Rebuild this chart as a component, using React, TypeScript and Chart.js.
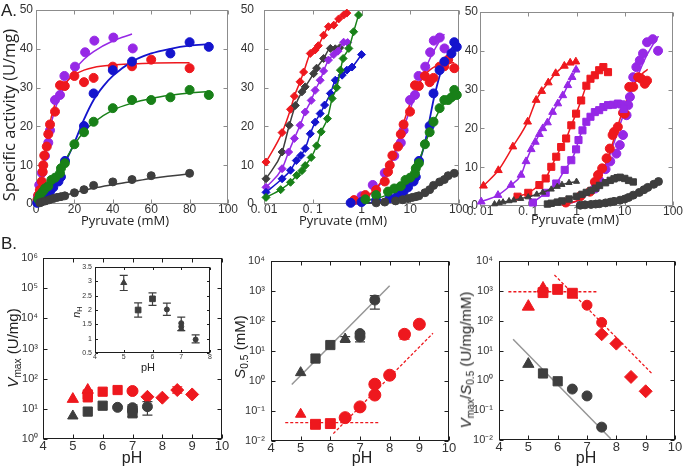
import React, { useEffect, useRef } from 'react';
import { Chart, registerables } from 'chart.js';
Chart.register(...registerables);

type P = [number, number];
type E = [number, number, number];

// ---------- Panel A, linear (pyruvate mM vs specific activity U/mg) ----------
const RED_A1: P[] = [[0.7,1],[1.2,2.3],[2,3.6],[3,5.8],[3.5,8.3],[3.8,10],[4.3,12.5],[5.6,14.8],[6.4,18],[7.3,20.5],[9.9,23.8],[12.5,30.6],[15,30.4],[20,33],[25,31.4],[30,32.5],[40,35.4],[50,35.5],[60,37.2],[80,35]];
const PURPLE_A1: P[] = [[1,2],[1.7,4.9],[3,8],[4.7,12.4],[6.4,15.8],[7.3,19],[9.9,26.8],[12.5,28.1],[14.8,33],[20.3,35.4],[25.6,39.1],[30.4,42.1],[40.3,42.9],[50.4,40.1]];
const BLUE_A1: P[] = [[0.6,0.3],[1,0.5],[2,0.9],[3.8,1.5],[5.6,2.3],[7.3,3.2],[9,4.3],[11.7,5.8],[13,7],[15.1,11.1],[25,20.1],[30,28.5],[40,34.5],[50,36.7],[70,38.8],[80,41.7],[90,40.5]];
const GREEN_A1: P[] = [[1.2,1.2],[2,2.3],[3.5,3.2],[4.7,4],[6.4,4.6],[8,6.2],[10,6.8],[12.5,7.9],[13,9.2],[15,10.5],[20,15.4],[25,18.5],[30,21.2],[40,24.7],[50,26.8],[60,26.8],[70,27.5],[80,29.4],[90,28.1]];
const GRAY_A1: P[] = [[2,0.3],[3,0.5],[5,0.8],[7,1.1],[9,1.4],[11,1.7],[13,1.9],[15,2.1],[20,2.9],[25,3.7],[30,4.8],[40,5.7],[50,6.3],[60,7.3],[80,7.9]];

const RED_FIT: P[] = [[0,0],[0.5,0.5],[1,1.3],[2,4],[3,7.3],[4,10.8],[5,14.2],[6,17.4],[8,22.5],[10,26],[12,28.5],[15,31],[20,33.3],[25,34.5],[30,35.2],[40,35.8],[50,36.1],[60,36.3],[80,36.4]];
const PURPLE_FIT: P[] = [[0,0],[0.5,0.4],[1,1.2],[2,3.8],[3,7],[4,10.3],[5,13.4],[6,16.3],[8,21],[10,24.5],[12,27.3],[15,30.5],[20,34.5],[25,37.3],[30,39.3],[40,42],[50,43.8]];
const BLUE_FIT: P[] = [[0,0],[0.5,0.05],[1,0.15],[2,0.5],[3,1],[4,1.5],[5,2.1],[6,2.8],[8,4.3],[10,6],[12,8],[15,10.5],[20,15.8],[25,21.8],[30,26.8],[35,30.3],[40,33],[50,36.7],[60,38.8],[70,40],[80,40.8],[90,41.2]];
const GREEN_FIT: P[] = [[0,0],[0.5,0.3],[1,0.7],[2,1.4],[3,2.1],[4,2.7],[5,3.3],[6,4],[8,5.3],[10,6.8],[12,8.5],[15,11],[20,15.3],[25,18.6],[30,21],[40,24.2],[50,26],[60,27.2],[70,28],[80,28.6],[90,29]];
const GRAY_FIT: P[] = [[0,0],[1,0.15],[2,0.3],[3,0.45],[5,0.8],[8,1.3],[10,1.55],[15,2.2],[20,2.9],[30,4.1],[40,5],[50,5.8],[60,6.6],[70,7.2],[80,7.8]];

// ---------- Panel A, middle (log) diamonds ----------
const RED_D: P[] = [[0.011,10.8],[0.0235,18.4],[0.035,24.4],[0.042,27.8],[0.055,31.5],[0.065,34],[0.089,38.8],[0.112,39.7],[0.13,40.8],[0.167,43.5],[0.21,45.7],[0.27,46.1],[0.34,47.7],[0.43,48.7],[0.5,49.2]];
const GRAY_D: P[] = [[0.011,6.5],[0.0235,13.4],[0.033,20.3],[0.044,25.4],[0.06,28.9],[0.07,30.2],[0.104,33.6],[0.12,35],[0.167,37.5],[0.23,40.1],[0.29,40],[0.36,40.3]];
const PURPLE_D: P[] = [[0.011,4.3],[0.0235,9.1],[0.032,13.4],[0.042,16.9],[0.055,20.3],[0.07,23.7],[0.093,26.7],[0.112,29.3],[0.142,31.9],[0.167,34.3],[0.21,37.1],[0.27,38.5],[0.33,39.4],[0.43,41.7],[0.52,41.6]];
const BLUE_D: P[] = [[0.011,3],[0.0235,6.5],[0.035,8.7],[0.046,11.2],[0.057,12.5],[0.07,14.3],[0.089,18.1],[0.112,21.1],[0.142,23.3],[0.175,25.5],[0.23,28.5],[0.29,31.9],[0.4,33.2],[0.5,34.5],[0.64,35.3],[1.0,38.5]];
const GREEN_D: P[] = [[0.011,1.7],[0.022,3.7],[0.035,5.6],[0.047,7.4],[0.06,8.6],[0.07,9.9],[0.093,12],[0.12,15],[0.149,18.6],[0.2,22],[0.25,27.2],[0.31,30],[0.37,34.5],[0.42,37.5],[0.55,40.1],[0.69,44.4],[0.87,48.7]];

// ---------- Panel A, right (log) ----------
const RED_TRI: P[] = [[0.0118,5.2],[0.024,9.2],[0.048,15.3],[0.097,21.7],[0.146,27.3],[0.19,29.6],[0.26,31.8],[0.37,34.2],[0.56,36.1],[0.74,36.9],[0.97,37.2]];
const PURPLE_TRI: P[] = [[0.0106,1.1],[0.0236,2.8],[0.044,5.4],[0.071,8],[0.09,11.5],[0.115,14.6],[0.14,16.5],[0.17,18.5],[0.2,20],[0.25,21.5],[0.32,24.2],[0.41,26.4],[0.52,28.5],[0.66,31.1],[0.81,33.2],[0.98,35.1]];
const GRAY_TRI: P[] = [[0.02,0.5],[0.025,0.8],[0.03,1],[0.04,1.3],[0.05,1.5],[0.07,1.9],[0.1,2.3],[0.15,3],[0.2,3.5],[0.3,4.3],[0.4,5],[0.5,5.5],[0.7,6],[1,6.3]];
const RED_SQ: P[] = [[0.06,2.4],[0.1,3.4],[0.17,5.4],[0.23,7.1],[0.3,10.1],[0.38,12.7],[0.48,15.2],[0.61,17.4],[0.78,20.8],[0.98,23.8],[1.25,27.2],[1.6,31],[1.95,32.8],[2.4,33.7],[2.95,35],[3.6,35.8],[4.5,34.5]];
const PURPLE_SQ: P[] = [[0.125,0.9],[0.23,3.4],[0.38,5.8],[0.57,9.3],[0.78,11.8],[0.98,14.6],[1.1,17],[1.33,19.5],[1.6,21.7],[1.95,23],[2.4,24.2],[2.95,24.7],[3.6,25.5],[4.5,26],[5.7,26.1],[7.2,26.4],[8.5,26.2],[9.5,25]];
const GRAY_SQ: P[] = [[0.25,0.5],[0.3,0.7],[0.4,1],[0.5,1.3],[0.7,1.8],[1,2.5],[1.3,3],[1.6,3.5],[2,4],[2.5,4.6],[3,5.3],[4,6],[5,6.6],[6,7],[7,7.3],[8,7.4],[10,7.1],[12,6.6],[15,6.2]];
const RED_C3: P[] = [[0.6,0.9],[1.2,2.5],[1.9,3.7],[2.4,6.2],[2.8,8],[3.4,9.7],[4.2,12.3],[4.9,14.8],[5.6,18.3],[6,19.1],[7.2,20.4],[9.2,24],[10,23.8],[12.4,30.7],[15,30.7],[19,33.2],[22,32.8],[26,31.5],[29,32.3]];
const PURPLE_C3: P[] = [[2.4,4.5],[3,6.5],[4,9.5],[5,11.5],[6.7,13.5],[7.9,15.7],[9.2,18.3],[10.9,23.4],[11.8,26],[12.8,28.1],[15,33.2],[17.4,35.8],[20.5,37.5],[23.9,39.3],[29,42.2],[38,43],[49,40]];
const GRAY_C3: P[] = [[1.2,0.2],[1.5,0.3],[2,0.4],[2.5,0.5],[3,0.6],[4,0.8],[5,1],[6,1.2],[8,1.5],[10,1.8],[12,2.2],[15,2.8],[20,3.5],[25,4.2],[30,4.8],[40,5.6],[50,6.3]];

// ---------- Panel B, left: Vmax vs pH ----------
const B1_RED_TRI: P[] = [[5,21],[5.5,42]];
const B1_RED_SQ: P[] = [[5.5,30],[5.5,24],[6,37],[6.5,42]];
const B1_RED_CIR: P[] = [[7,39]];
const B1_RED_DIA: P[] = [[7.5,25],[8,23.4],[8.5,42],[9,30]];
const B1_GRAY_TRI: P[] = [[5,5.8]];
const B1_GRAY_SQ: P[] = [[5.5,8.1],[6,12.7],[7,7.1]];
const B1_GRAY_CIR: P[] = [[6.5,11.2],[7,10.9],[7,8.5],[7.5,11.8]];
const B1_ERR_GRAY: E[] = [[7,5.5,13.5],[7.5,6.2,17.3]];
const B1_ERR_RED: E[] = [[8.5,33,54],[7,35,44]];

// inset: nH vs pH
const IN_TRI: P[] = [[5,2.95],[7,1.34]];
const IN_SQ: P[] = [[5.5,2.0],[6,2.39]];
const IN_CIR: P[] = [[6.5,2.02],[7,1.54],[7,1.42],[7.5,0.97]];
const IN_ERR: E[] = [[5,2.68,3.21],[5.5,1.75,2.25],[6,2.16,2.6],[6.5,1.81,2.24],[7,1.28,1.75],[7.5,0.85,1.13]];

// ---------- Panel B, middle: S0.5 vs pH ----------
const B2_GRAY_TRI: P[] = [[5,1.9],[6.5,25]];
const B2_GRAY_SQ: P[] = [[5.5,5.6],[6,15.8]];
const B2_GRAY_CIR: P[] = [[7,29.5],[7,38],[7.5,500]];
const B2_ERR_GRAY: E[] = [[6.5,19.5,30],[7,20,44],[7.5,250,700]];
const B2_RED_TRI: P[] = [[5,0.078]];
const B2_RED_SQ: P[] = [[5.5,0.036],[6,0.038]];
const B2_RED_CIR: P[] = [[6.5,0.06],[7,0.137],[7.5,0.34],[7.5,0.78],[8,1.56],[8.5,36],[9,78]];
const B2_ERR_RED: E[] = [[8.5,25,46]];
const B2_GRAY_LINE: P[] = [[4.7,0.76],[8.0,1500]];
const B2_RED_FLAT: P[] = [[4.48,0.041],[7.64,0.041]];
const B2_RED_SLOPE: P[] = [[6.1,0.0176],[9.46,39]];

// ---------- Panel B, right: Vmax/S0.5 vs pH ----------
const B3_RED_TRI: P[] = [[5,295],[5.5,1200]];
const B3_RED_SQ: P[] = [[5.5,870],[6,1120],[6.5,830]];
const B3_RED_CIR: P[] = [[7,330],[7.5,87]];
const B3_RED_DIA: P[] = [[7.5,35],[8,17],[8.5,1.3],[9,0.43]];
const B3_GRAY_TRI: P[] = [[5,3.5]];
const B3_GRAY_SQ: P[] = [[5.5,1.7],[6,0.93]];
const B3_GRAY_CIR: P[] = [[6.5,0.51],[7,0.3],[7.5,0.027]];
const B3_RED_FLAT: P[] = [[4.32,930],[7.38,930]];
const B3_RED_SLOPE: P[] = [[5.89,3400],[9.21,1.7]];
const B3_GRAY_LINE: P[] = [[4.48,24],[7.81,0.011]];

// ---------- ticks ----------
const A_LIN_X = [0,20,40,60,80,100];
const A_LIN_Y = [0,10,20,30,40,50];
const A_LOG_X = [0.01,0.1,1,10,100];
const A_LOG_X_LABELS = ['0. 01','0. 1','1','10','100'];
const PH_TICKS = [4,5,6,7,8,9,10];
const B1_Y = [1,10,100,1e3,1e4,1e5,1e6];
const B1_Y_LABELS = ['10⁰','10¹','10²','10³','10⁴','10⁵','10⁶'];
const B23_Y = [0.01,0.1,1,10,100,1e3,1e4];
const B23_Y_LABELS = ['10⁻²','10⁻¹','10⁰','10¹','10²','10³','10⁴'];
const IN_X = [4,5,6,7,8];
const IN_Y = [0.5,1,1.5,2,2.5,3,3.5];

// ---------- styles ----------
const RED = 'rgb(238,24,30)';
const PURPLE = 'rgb(150,40,230)';
const BLUE = 'rgb(20,20,205)';
const GREEN = 'rgb(24,128,24)';
const GRAY = 'rgb(62,62,62)';
const LGRAY = 'rgb(150,150,150)';
const TICKFONT = '"Liberation Sans", Arial, sans-serif';

const xy = (d: P[], log = false) => d.filter(p => !log || p[0] > 0).map(([x, y]) => ({ x, y }));

function pts(d: P[], color: string, style: string, r: number) {
  return { data: xy(d), showLine: false, pointStyle: style, pointRadius: r, backgroundColor: color, borderColor: color, pointBorderWidth: 1, clip: false };
}
function ptsLine(d: P[], color: string, style: string, r: number) {
  return { data: xy(d), showLine: true, cubicInterpolationMode: 'monotone', borderWidth: 1.5, pointStyle: style, pointRadius: r, backgroundColor: color, borderColor: color, pointBorderWidth: 1, clip: false };
}
function curve(d: P[], color: string, w: number, log = false, dash: number[] = [], maxX = Infinity) {
  return { data: xy(d.filter(p => p[0] <= maxX), log), showLine: true, cubicInterpolationMode: 'monotone', borderWidth: w, borderDash: dash, pointRadius: 0, borderColor: color, backgroundColor: color, clip: false };
}

interface Ax { type: string; min: number; max: number; ticks: number[]; labels?: string[]; size: number; pad: number; }
interface Spec {
  box: { left: number; top: number; w: number; h: number };
  area: { l: number; t: number; r: number; b: number };
  x: Ax; y: Ax; datasets: any[]; frame: string; tick: number;
  errs?: { data: E[]; color: string; cap: number }[];
}

function axisCfg(ax: Ax, horizontal: boolean, extent: number) {
  return {
    type: ax.type, min: ax.min, max: ax.max, position: horizontal ? 'bottom' : 'left',
    grid: { display: false, drawTicks: false, tickLength: 0 }, border: { display: false },
    afterBuildTicks: (s: any) => { s.ticks = ax.ticks.map(v => ({ value: v })); },
    ticks: {
      autoSkip: false, maxRotation: 0, minRotation: 0, padding: ax.pad, color: '#333',
      font: { family: TICKFONT, size: ax.size, lineHeight: 1 },
      callback: (_v: any, i: number) => (ax.labels ? ax.labels[i] : String(ax.ticks[i])),
    },
    afterFit: (s: any) => {
      if (horizontal) s.height = extent; else s.width = extent;
      s.paddingLeft = 0; s.paddingRight = 0; s.paddingTop = 0; s.paddingBottom = 0;
    },
  };
}

function framePlugin(spec: Spec) {
  return {
    id: 'frame',
    beforeDatasetsDraw(chart: any) {
      const { ctx, chartArea: a, scales } = chart;
      const xs = scales.x, ys = scales.y;
      ctx.save();
      ctx.strokeStyle = spec.frame; ctx.lineWidth = 1;
      const L = Math.round(a.left) + 0.5, T = Math.round(a.top) + 0.5, R = Math.round(a.right) - 0.5, B = Math.round(a.bottom) - 0.5;
      ctx.strokeRect(L, T, R - L, B - T);
      ctx.beginPath();
      for (const v of spec.x.ticks) {
        const px = Math.round(xs.getPixelForValue(v)) + 0.5;
        ctx.moveTo(px, B); ctx.lineTo(px, B - spec.tick);
        ctx.moveTo(px, T); ctx.lineTo(px, T + spec.tick);
      }
      for (const v of spec.y.ticks) {
        const py = Math.round(ys.getPixelForValue(v)) + 0.5;
        ctx.moveTo(L, py); ctx.lineTo(L + spec.tick, py);
        ctx.moveTo(R, py); ctx.lineTo(R - spec.tick, py);
      }
      ctx.stroke();
      for (const e of spec.errs || []) {
        ctx.strokeStyle = e.color; ctx.lineWidth = 1.2;
        ctx.beginPath();
        for (const [x, lo, hi] of e.data) {
          const px = xs.getPixelForValue(x);
          const yl = ys.getPixelForValue(lo), yh = ys.getPixelForValue(hi);
          ctx.moveTo(px - e.cap, yl); ctx.lineTo(px + e.cap, yl);
          ctx.moveTo(px - e.cap, yh); ctx.lineTo(px + e.cap, yh);
          ctx.moveTo(px, yl); ctx.lineTo(px, yh);
        }
        ctx.stroke();
      }
      ctx.restore();
    },
  };
}

function ChartPanel({ spec }: { spec: Spec }) {
  const ref = useRef<HTMLCanvasElement>(null);
  useEffect(() => {
    const { box, area } = spec;
    const chart = new Chart(ref.current as HTMLCanvasElement, {
      type: 'scatter',
      data: { datasets: spec.datasets },
      options: {
        animation: false, responsive: false, devicePixelRatio: 1, events: [],
        layout: { padding: { left: 0, bottom: 0, top: area.t - box.top, right: box.left + box.w - area.r } },
        plugins: { legend: { display: false }, tooltip: { enabled: false } },
        scales: {
          x: axisCfg(spec.x, true, box.top + box.h - area.b),
          y: axisCfg(spec.y, false, area.l - box.left),
        },
      } as any,
      plugins: [framePlugin(spec)],
    });
    return () => chart.destroy();
  }, [spec]);
  return (
    <canvas ref={ref} width={spec.box.w} height={spec.box.h}
      style={{ position: 'absolute', left: spec.box.left, top: spec.box.top, width: spec.box.w, height: spec.box.h }} />
  );
}

const A_FRAME = 'rgb(140,140,140)';
const B_FRAME = 'rgb(30,30,30)';

const SPECS: Spec[] = [
  {
    box: { left: 0, top: 0, w: 240, h: 222 }, area: { l: 36, t: 10, r: 228, b: 204 },
    x: { type: 'linear', min: 0, max: 100, ticks: A_LIN_X, size: 12, pad: 0 },
    y: { type: 'linear', min: 0, max: 50, ticks: A_LIN_Y, size: 12, pad: 3 },
    frame: A_FRAME, tick: 4,
    datasets: [
      pts(GRAY_A1, GRAY, 'circle', 4), pts(GREEN_A1, GREEN, 'circle', 4.5), pts(BLUE_A1, BLUE, 'circle', 4.5),
      pts(RED_A1, RED, 'circle', 4.5), pts(PURPLE_A1, PURPLE, 'circle', 4.5),
      curve(GRAY_FIT, GRAY, 1.5), curve(GREEN_FIT, GREEN, 1.5), curve(BLUE_FIT, BLUE, 1.8),
      curve(RED_FIT, RED, 1.5), curve(PURPLE_FIT, PURPLE, 1.5),
    ],
  },
  {
    box: { left: 238, top: 0, w: 232, h: 222 }, area: { l: 264, t: 10, r: 459, b: 204 },
    x: { type: 'logarithmic', min: 0.01, max: 100, ticks: A_LOG_X, labels: A_LOG_X_LABELS, size: 12, pad: 0 },
    y: { type: 'linear', min: 0, max: 50, ticks: A_LIN_Y, size: 12, pad: 10 },
    frame: A_FRAME, tick: 4,
    datasets: [
      ptsLine(GREEN_D, GREEN, 'rectRot', 4), ptsLine(BLUE_D, BLUE, 'rectRot', 4), ptsLine(PURPLE_D, PURPLE, 'rectRot', 4),
      ptsLine(GRAY_D, GRAY, 'rectRot', 4), ptsLine(RED_D, RED, 'rectRot', 4),
      pts(GRAY_A1, GRAY, 'circle', 4), pts(GREEN_A1, GREEN, 'circle', 4.5), pts(BLUE_A1, BLUE, 'circle', 4.5),
      pts(RED_A1, RED, 'circle', 4.5), pts(PURPLE_A1, PURPLE, 'circle', 4.5),
      curve(GRAY_FIT, GRAY, 1.5, true), curve(GREEN_FIT, GREEN, 1.5, true), curve(BLUE_FIT, BLUE, 1.8, true),
      curve(RED_FIT, RED, 1.5, true), curve(PURPLE_FIT, PURPLE, 1.5, true),
    ],
  },
  {
    box: { left: 458, top: 0, w: 225, h: 224 }, area: { l: 480, t: 12, r: 673, b: 206 },
    x: { type: 'logarithmic', min: 0.01, max: 100, ticks: A_LOG_X, labels: A_LOG_X_LABELS, size: 12, pad: 0 },
    y: { type: 'linear', min: 0, max: 50, ticks: A_LIN_Y, size: 12, pad: 2 },
    frame: A_FRAME, tick: 4,
    datasets: [
      ptsLine(GRAY_TRI, GRAY, 'triangle', 3.5), ptsLine(GRAY_SQ, GRAY, 'rect', 4.5), pts(GRAY_C3, GRAY, 'circle', 4),
      ptsLine(PURPLE_TRI, PURPLE, 'triangle', 4.5), ptsLine(RED_TRI, RED, 'triangle', 4.5),
      ptsLine(PURPLE_SQ, PURPLE, 'rect', 5), ptsLine(RED_SQ, RED, 'rect', 5),
      pts(RED_C3, RED, 'circle', 4.5), pts(PURPLE_C3, PURPLE, 'circle', 4.5),
      curve(GRAY_FIT, GRAY, 1.5, true, [], 50), curve(RED_FIT, RED, 1.5, true, [], 30), curve(PURPLE_FIT, PURPLE, 1.5, true, [], 50),
    ],
  },
  {
    box: { left: 15, top: 248, w: 220, h: 206 }, area: { l: 43, t: 258, r: 222, b: 439 },
    x: { type: 'linear', min: 4, max: 10, ticks: PH_TICKS, size: 13, pad: 1 },
    y: { type: 'logarithmic', min: 1, max: 1e6, ticks: B1_Y, labels: B1_Y_LABELS, size: 11, pad: 5 },
    frame: B_FRAME, tick: 4,
    errs: [{ data: B1_ERR_GRAY, color: GRAY, cap: 5 }, { data: B1_ERR_RED, color: RED, cap: 5 }],
    datasets: [
      pts(B1_GRAY_TRI, GRAY, 'triangle', 6), pts(B1_GRAY_SQ, GRAY, 'rect', 6.5), pts(B1_GRAY_CIR, GRAY, 'circle', 5),
      pts(B1_RED_TRI, RED, 'triangle', 6.5), pts(B1_RED_SQ, RED, 'rect', 6.5), pts(B1_RED_CIR, RED, 'circle', 5.5),
      pts(B1_RED_DIA, RED, 'rectRot', 6.5),
    ],
  },
  {
    box: { left: 243, top: 250, w: 220, h: 206 }, area: { l: 271, t: 261, r: 449, b: 441 },
    x: { type: 'linear', min: 4, max: 10, ticks: PH_TICKS, size: 13, pad: 1 },
    y: { type: 'logarithmic', min: 0.01, max: 1e4, ticks: B23_Y, labels: B23_Y_LABELS, size: 11, pad: 6 },
    frame: B_FRAME, tick: 4,
    errs: [{ data: B2_ERR_GRAY, color: GRAY, cap: 5 }, { data: B2_ERR_RED, color: RED, cap: 5 }],
    datasets: [
      pts(B2_GRAY_TRI, GRAY, 'triangle', 6), pts(B2_GRAY_SQ, GRAY, 'rect', 6.5), pts(B2_GRAY_CIR, GRAY, 'circle', 5),
      pts(B2_RED_TRI, RED, 'triangle', 6), pts(B2_RED_SQ, RED, 'rect', 7), pts(B2_RED_CIR, RED, 'circle', 6),
      curve(B2_GRAY_LINE, LGRAY, 1.5), curve(B2_RED_FLAT, RED, 1.3, false, [3, 2]), curve(B2_RED_SLOPE, RED, 1.3, false, [3, 2]),
    ],
  },
  {
    box: { left: 471, top: 250, w: 212, h: 206 }, area: { l: 499, t: 261, r: 676, b: 440 },
    x: { type: 'linear', min: 4, max: 10, ticks: PH_TICKS, size: 13, pad: 1 },
    y: { type: 'logarithmic', min: 0.01, max: 1e4, ticks: B23_Y, labels: B23_Y_LABELS, size: 11, pad: 6 },
    frame: B_FRAME, tick: 4,
    datasets: [
      pts(B3_GRAY_TRI, GRAY, 'triangle', 6.5), pts(B3_GRAY_SQ, GRAY, 'rect', 6.5), pts(B3_GRAY_CIR, GRAY, 'circle', 5),
      pts(B3_RED_TRI, RED, 'triangle', 7), pts(B3_RED_SQ, RED, 'rect', 7), pts(B3_RED_CIR, RED, 'circle', 5),
      pts(B3_RED_DIA, RED, 'rectRot', 6.5),
      curve(B3_GRAY_LINE, LGRAY, 1.5), curve(B3_RED_FLAT, RED, 1.3, false, [3, 2]), curve(B3_RED_SLOPE, RED, 1.3, false, [3, 2]),
    ],
  },
  {
    box: { left: 78, top: 262, w: 137, h: 100 }, area: { l: 95, t: 267, r: 211, b: 353 },
    x: { type: 'linear', min: 4, max: 8, ticks: IN_X, size: 7, pad: 1 },
    y: { type: 'linear', min: 0.5, max: 3.5, ticks: IN_Y, size: 7, pad: 3 },
    frame: B_FRAME, tick: 2.5,
    errs: [{ data: IN_ERR, color: GRAY, cap: 4 }],
    datasets: [
      pts(IN_TRI, GRAY, 'triangle', 3.5), pts(IN_SQ, GRAY, 'rect', 4), pts(IN_CIR, GRAY, 'circle', 2.5),
    ],
  },
];

function Txt({ x, y, rot = 0, size, family, children, style = {} }: any) {
  return (
    <div style={{ position: 'absolute', left: x, top: y, transform: `translate(-50%, -50%) rotate(${rot}deg)`, whiteSpace: 'nowrap', fontSize: size, fontFamily: family, color: '#222', lineHeight: 1, ...style }}>
      {children}
    </div>
  );
}

const TITLE_A = '"Open Sans", sans-serif';
const TITLE_B = '"Liberation Sans", Arial, sans-serif';
const subStyle = { fontSize: '0.68em', verticalAlign: '-0.3em' } as const;

export default function App() {
  return (
    <div style={{ position: 'absolute', left: 0, top: 0, width: 683, height: 468, background: '#fff', overflow: 'hidden' }}>
      {SPECS.map((s, i) => <ChartPanel key={i} spec={s} />)}
      <Txt x={9} y={10} size={17} family={TITLE_B}>A.</Txt>
      <Txt x={9} y={243} size={17} family={TITLE_B}>B.</Txt>
      <Txt x={9} y={115} rot={-90} size={16.5} family={TITLE_A}>Specific activity (U/mg)</Txt>
      <Txt x={125} y={220} size={13} family={TITLE_A}>Pyruvate (mM)</Txt>
      <Txt x={343} y={220} size={13} family={TITLE_A}>Pyruvate (mM)</Txt>
      <Txt x={575} y={219} size={13} family={TITLE_A}>Pyruvate (mM)</Txt>
      <Txt x={132} y={458} size={16} family={TITLE_B}>pH</Txt>
      <Txt x={362} y={458} size={16} family={TITLE_B}>pH</Txt>
      <Txt x={586} y={458} size={16} family={TITLE_B}>pH</Txt>
      <Txt x={148} y={367} size={11} family={TITLE_B}>pH</Txt>
      <Txt x={77} y={312} rot={-90} size={11} family={TITLE_B}><i>n</i><span style={subStyle}>H</span></Txt>
      <Txt x={14} y={348} rot={-90} size={15} family={TITLE_B}><i>V</i><span style={subStyle}>max</span> (U/mg)</Txt>
      <Txt x={241} y={347} rot={-90} size={15} family={TITLE_B}><i>S</i><span style={subStyle}>0.5</span> (mM)</Txt>
      <Txt x={467} y={360} rot={-90} size={15} family={TITLE_B}><i>V</i><span style={subStyle}>max</span>/<i>S</i><span style={subStyle}>0.5</span> (U/mg/mM)</Txt>
    </div>
  );
}
